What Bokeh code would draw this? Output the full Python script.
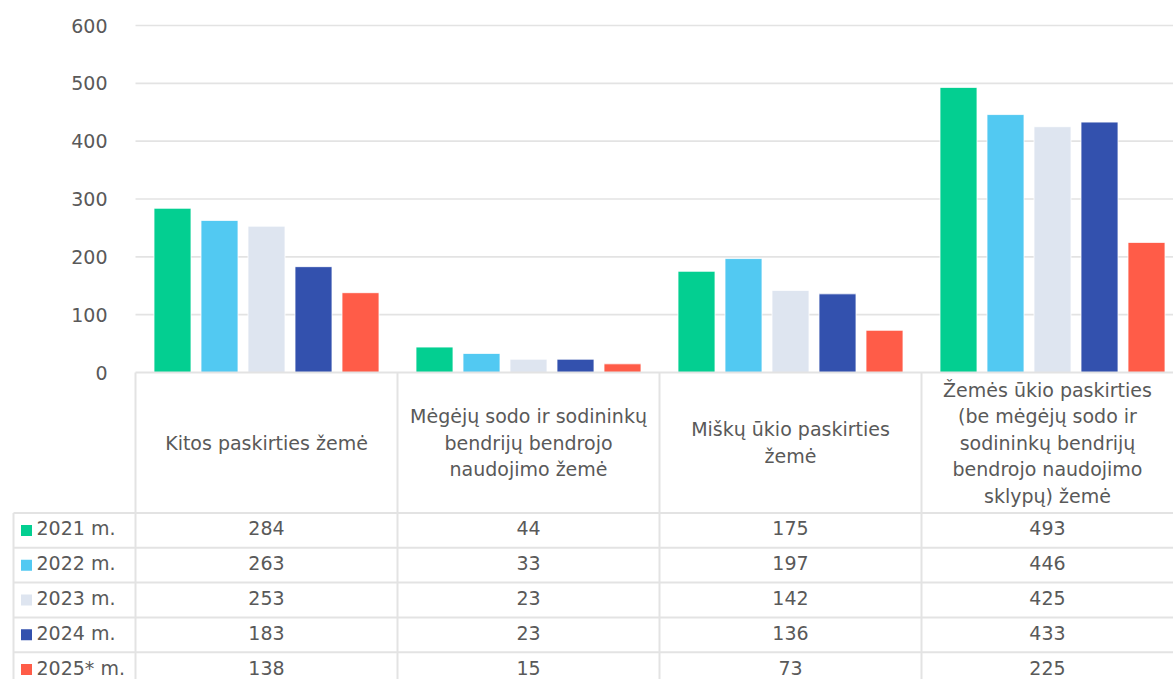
from bokeh.plotting import figure
from bokeh.models import Range1d
from bokeh.core.properties import value
from bokeh.embed import file_html
from bokeh.resources import INLINE

# ---------------- data ----------------
categories = [
    "Kitos paskirties žemė",
    "Mėgėjų sodo ir sodininkų bendrijų bendrojo naudojimo žemė",
    "Miškų ūkio paskirties žemė",
    "Žemės ūkio paskirties (be mėgėjų sodo ir sodininkų bendrijų bendrojo naudojimo sklypų) žemė",
]
header_lines = [
    ["Kitos paskirties žemė"],
    ["Mėgėjų sodo ir sodininkų", "bendrijų bendrojo", "naudojimo žemė"],
    ["Miškų ūkio paskirties", "žemė"],
    ["Žemės ūkio paskirties", "(be mėgėjų sodo ir", "sodininkų bendrijų", "bendrojo naudojimo", "sklypų) žemė"],
]
series = ["2021 m.", "2022 m.", "2023 m.", "2024 m.", "2025* m."]
v2021 = [284, 44, 175, 493]
v2022 = [263, 33, 197, 446]
v2023 = [253, 23, 142, 425]
v2024 = [183, 23, 136, 433]
v2025 = [138, 15, 73, 225]
series_values = [v2021, v2022, v2023, v2024, v2025]
colors = ["#03CF91", "#52C9F2", "#DEE5F0", "#3351AE", "#FF5C48"]
y_ticks = [0, 100, 200, 300, 400, 500, 600]

# ---------------- layout (reference pixel geometry) ----------------
W, H = 1173, 679
REF_L, REF_R, REF_T, REF_B = 0, 1173, 0, 679
CAT_X0, CAT_W = 135, 262          # first category left edge, category width (px)
Y0_PX, Y600_PX = 372, 25          # pixel rows of value 0 and 600
u_per_px = 600 / (Y0_PX - Y600_PX)

x_start = (REF_L - CAT_X0) / CAT_W
x_end = (REF_R - CAT_X0) / CAT_W
y_start = -(REF_B - Y0_PX) * u_per_px
y_end = 600 + (Y600_PX - REF_T) * u_per_px

def px2x(px):
    return (px - CAT_X0) / CAT_W

p = figure(width=W, height=H, output_backend="svg", toolbar_location=None,
           x_range=Range1d(x_start, x_end), y_range=Range1d(y_start, y_end),
           x_axis_location=None, y_axis_location=None,
           min_border=0, outline_line_color=None, tools="")
p.extra_y_ranges = {"tbl": Range1d(REF_B, REF_T)}
p.xgrid.visible = False
p.ygrid.visible = False
p.background_fill_color = "white"

FONT = value("DejaVu Sans")
FS = "19px"
TXT = "#595959"
GRID = "#E3E3E3"

# gridlines
gy = [t for t in y_ticks if t > 0]
p.segment(x0=[0] * len(gy), x1=[x_end] * len(gy), y0=gy, y1=gy,
          line_color=GRID, line_width=1.6)

# y tick labels
p.text(x=[px2x(107)] * len(y_ticks), y=y_ticks, text=[str(t) for t in y_ticks],
       text_font=FONT, text_font_size=FS, text_color=TXT,
       text_align="right", text_baseline="middle")

# bars
bar_w = 37 / CAT_W
step = 47 / CAT_W
n = len(series)
for i, (name, vals, col) in enumerate(zip(series, series_values, colors)):
    off = (i - (n - 1) / 2) * step
    xs = [k + 0.5 + off for k in range(len(categories))]
    p.vbar(x=xs, top=vals, bottom=0, width=bar_w, fill_color=col,
           line_color="white", line_width=0.8)

# ---------------- data table ----------------
HEADER_BOTTOM = 512.5
ROW_H = 34.8
TEXT_SHIFT = -2.0
LEG_LEFT = px2x(13)
ncat = len(categories)

# top line at value 0
p.segment(x0=[0], x1=[x_end], y0=[0], y1=[0], line_color=GRID, line_width=2)
# row lines
row_tops = [HEADER_BOTTOM + r * ROW_H for r in range(n)]
p.segment(x0=[LEG_LEFT] * n, x1=[x_end] * n, y0=row_tops, y1=row_tops,
          line_color=GRID, line_width=2, y_range_name="tbl")
# vertical lines
vx = list(range(ncat + 1))
p.segment(x0=vx, x1=vx, y0=[Y0_PX] * len(vx), y1=[REF_B] * len(vx),
          line_color=GRID, line_width=2, y_range_name="tbl")
p.segment(x0=[LEG_LEFT], x1=[LEG_LEFT], y0=[HEADER_BOTTOM], y1=[REF_B],
          line_color=GRID, line_width=2, y_range_name="tbl")

# column centres (last column clipped by the visible area)
col_cx = [(k + min(k + 1, x_end)) / 2 for k in range(ncat)]

# header texts
LINE_SP = 26.6
hc = (Y0_PX + HEADER_BOTTOM) / 2
hx, hy, ht = [], [], []
for k, lines in enumerate(header_lines):
    m = len(lines)
    for j, s in enumerate(lines):
        hx.append(col_cx[k])
        hy.append(hc + (j - (m - 1) / 2) * LINE_SP)
        ht.append(s)
p.text(x=hx, y=hy, text=ht, y_range_name="tbl", text_font=FONT,
       text_font_size=FS, text_color=TXT, text_align="center",
       text_baseline="middle")

# legend keys + labels + values
row_c = [t + ROW_H / 2 for t in row_tops]
row_t = [c + TEXT_SHIFT for c in row_c]
p.rect(x=[px2x(26)] * n, y=row_c, width=11 / CAT_W, height=11, y_range_name="tbl",
       fill_color=colors, line_color=None)
p.text(x=[px2x(36)] * n, y=row_t, text=series, y_range_name="tbl",
       text_font=FONT, text_font_size=FS, text_color=TXT,
       text_align="left", text_baseline="middle")
vx_, vy_, vt_ = [], [], []
for r, vals in enumerate(series_values):
    for k, v in enumerate(vals):
        vx_.append(col_cx[k])
        vy_.append(row_t[r])
        vt_.append(str(v))
p.text(x=vx_, y=vy_, text=vt_, y_range_name="tbl", text_font=FONT,
       text_font_size=FS, text_color=TXT, text_align="center",
       text_baseline="middle")

open("out.html", "w").write(file_html(p, INLINE))
